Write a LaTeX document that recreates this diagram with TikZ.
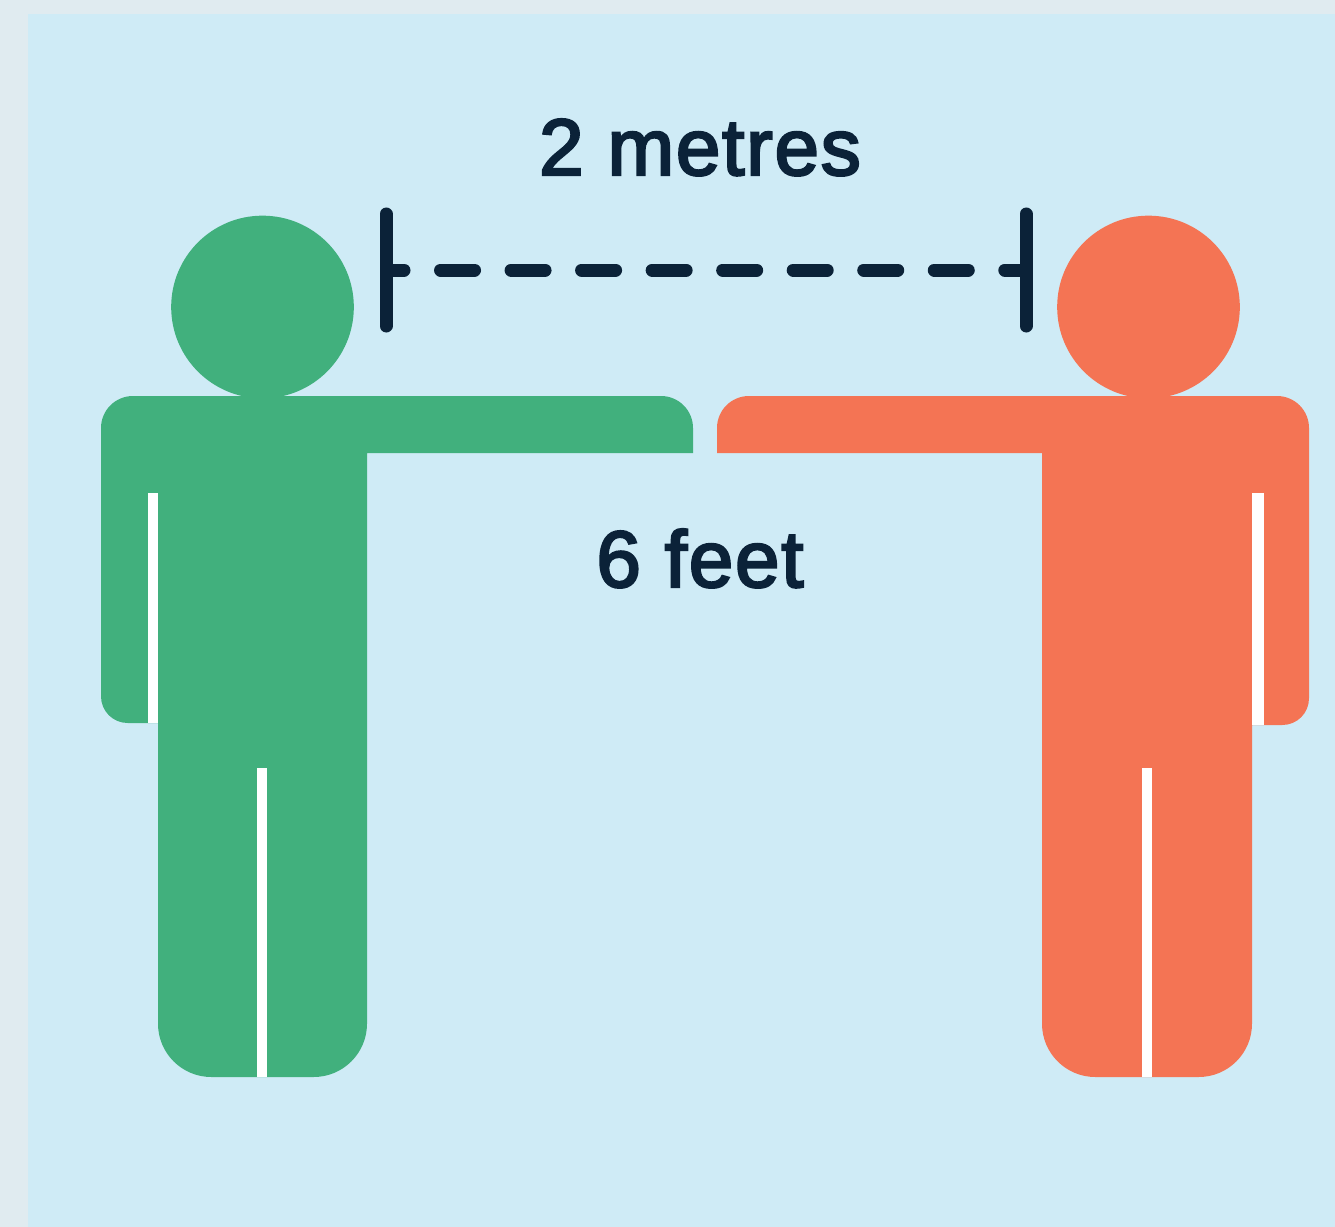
\documentclass[tikz,border=0pt]{standalone}
\usepackage{fontspec}
\setmainfont{Liberation Sans}[RawFeature={embolden=3},LetterSpace=2.2]
\definecolor{outerbg}{HTML}{E0EBF0}
\definecolor{innerbg}{HTML}{CFEBF6}
\definecolor{persongreen}{HTML}{41B07D}
\definecolor{personred}{HTML}{F47454}
\definecolor{inkdark}{HTML}{0B2238}
\tikzset{
  px/.style={x=0.75pt,y=-0.75pt},
  headdisc/.style={circle,minimum size=137pt,inner sep=0pt},
  slit/.style={fill=white,draw=none},
  tickbar/.style={draw=inkdark,line width=9.75pt,line cap=round},
  gapline/.style={draw=inkdark,line width=9.75pt,line cap=round,dash pattern=on 25.5pt off 27.4pt,dash phase=12.75pt},
  caption/.style={text=inkdark,anchor=base,inner sep=0pt,font=\fontsize{60}{70}\selectfont},
}
\begin{document}
\begin{tikzpicture}[px]
\useasboundingbox (0,0) rectangle (1335,1227);
\fill[outerbg] (0,0) rectangle (1335,1227);
\fill[innerbg] (28,14) rectangle (1335,1227);
% green person
\node[headdisc,fill=persongreen] (headL) at (262.5,307) {};
\fill[persongreen]
  (693,453)
  [rounded corners=24pt] -- (693,396)
  -- (101,396)
  [rounded corners=0pt] -- (101,600)
  [rounded corners=20pt] -- (101,723)
  [sharp corners] -- (158,723)
  [rounded corners=40pt] -- (158,1077) -- (367,1077)
  [sharp corners] -- (367,453) -- cycle;
\fill[slit] (148,493) rectangle (158,723);
\fill[slit] (257,768) rectangle (267,1077);
% red person
\node[headdisc,fill=personred] (headR) at (1148.5,307) {};
\fill[personred]
  (717,453)
  [rounded corners=24pt] -- (717,396)
  -- (1309,396)
  [rounded corners=0pt] -- (1309,600)
  [rounded corners=20pt] -- (1309,725)
  [sharp corners] -- (1252,725)
  [rounded corners=40pt] -- (1252,1077) -- (1042,1077)
  [sharp corners] -- (1042,453) -- cycle;
\fill[slit] (1252,493) rectangle (1264,725);
\fill[slit] (1142,768) rectangle (1152,1077);
% measure
\coordinate (tickLtop) at (386,214);
\coordinate (tickLbot) at (386,326);
\coordinate (tickRtop) at (1026,214);
\coordinate (tickRbot) at (1026,326);
\coordinate (gapL) at (387,270);
\coordinate (gapR) at (1026,270);
\draw[tickbar] (tickLtop) -- (tickLbot);
\draw[tickbar] (tickRtop) -- (tickRbot);
\draw[gapline] (gapL) -- (gapR);
% labels
\node[caption] (metres) at (700,175) {2 metres};
\node[caption] (feet) at (700,587) {6 feet};
\end{tikzpicture}
\end{document}
